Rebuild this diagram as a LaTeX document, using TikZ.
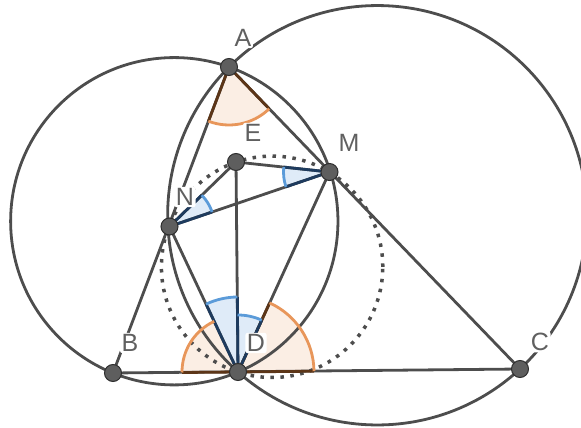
\documentclass[tikz,border=0pt]{standalone}
\usepackage{fontspec}
\newfontfamily\lblfont{Liberation Sans}
\definecolor{linec}{HTML}{4D4D4D}
\definecolor{ptfill}{HTML}{5E5E5E}
\definecolor{ptdraw}{HTML}{2E2E2E}
\definecolor{lblc}{HTML}{606060}
\definecolor{oarcc}{HTML}{E8965A}
\definecolor{ofillc}{HTML}{FBEEE4}
\definecolor{osidec}{HTML}{5C3517}
\definecolor{barcc}{HTML}{5B9BD9}
\definecolor{bfillc}{HTML}{DFEBF8}
\definecolor{bsidec}{HTML}{1E3B5E}
\begin{document}
\begin{tikzpicture}[x=1pt,y=1pt,
  seg/.style={draw=linec,line width=2.8pt},
  circ/.style={draw=linec,line width=2.8pt},
  dotc/.style={draw=linec,line width=3.5pt,dash pattern=on 3.5pt off 6.5pt},
  ptnode/.style={circle,fill=ptfill,draw=ptdraw,line width=1pt,minimum size=17pt,inner sep=0pt},
  lbl/.style={text=lblc,fill=white,rounded corners=2pt,font=\lblfont\fontsize{25}{25}\selectfont,inner sep=1.5pt},
  ofill/.style={fill=ofillc},
  bfill/.style={fill=bfillc},
  oside/.style={draw=osidec,line width=2.8pt},
  bside/.style={draw=bsidec,line width=2.8pt},
  oarc/.style={draw=oarcc,line width=2.8pt},
  barc/.style={draw=barcc,line width=2.8pt}
]
\useasboundingbox (0,0) rectangle (581,428);
% points
\coordinate (A) at (229,361);
\coordinate (B) at (113,55);
\coordinate (C) at (520,59);
\coordinate (D) at (238,56);
\coordinate (E) at (236,266);
\coordinate (M) at (329.5,256);
\coordinate (N) at (169.5,201.5);
% circle centres
\coordinate (O1) at (174.29,206.75);
\coordinate (O2) at (377.35,212.74);
\coordinate (O3) at (272.1,161.2);

% angle fills
\fill[ofill] (A) -- ++(249.2:58pt) arc[start angle=249.2,end angle=313.9,radius=58pt] -- cycle;
\fill[bfill] (N) -- ++(18.8:45pt) arc[start angle=18.8,end angle=44.1,radius=45pt] -- cycle;
\fill[bfill] (M) -- ++(173.9:46pt) arc[start angle=173.9,end angle=198.8,radius=46pt] -- cycle;
\fill[ofill] (D) -- ++(115.2:56pt) arc[start angle=115.2,end angle=180.5,radius=56pt] -- cycle;
\fill[bfill] (D) -- ++(90.5:75pt) arc[start angle=90.5,end angle=115.2,radius=75pt] -- cycle;
\fill[bfill] (D) -- ++(65.4:57pt) arc[start angle=65.4,end angle=90.5,radius=57pt] -- cycle;
\fill[ofill] (D) -- ++(0.6:76pt) arc[start angle=0.6,end angle=65.4,radius=76pt] -- cycle;

% circles
\draw[circ] (O1) circle[radius=163.66pt];
\draw[circ] (O2) circle[radius=209.7pt];
\draw[dotc] (O3) circle[radius=110.7pt];

% segments
\draw[seg] (A) -- (B);
\draw[seg] (A) -- (C);
\draw[seg] (B) -- (C);
\draw[seg] (E) -- (D);
\draw[seg] (E) -- (N);
\draw[seg] (E) -- (M);
\draw[seg] (N) -- (M);
\draw[seg] (N) -- (D);
\draw[seg] (M) -- (D);

% angle sides
\draw[oside] (A) -- ++(249.2:58pt);
\draw[oside] (A) -- ++(313.9:58pt);
\draw[bside] (N) -- ++(18.8:45pt);
\draw[bside] (N) -- ++(44.1:45pt);
\draw[bside] (M) -- ++(173.9:46pt);
\draw[bside] (M) -- ++(198.8:46pt);
\draw[oside] (D) -- ++(180.5:56pt);
\draw[oside] (D) -- ++(0.6:76pt);
\draw[oside] (D) -- ++(65.4:76pt);
\draw[bside] (D) -- ++(115.2:75pt);
\draw[bside] (D) -- ++(90.5:75pt);
\draw[bside] (D) -- ++(65.4:57pt);

% angle arcs
\draw[oarc] ([shift={(249.2:58pt)}]A) arc[start angle=249.2,end angle=313.9,radius=58pt];
\draw[barc] ([shift={(18.8:45pt)}]N) arc[start angle=18.8,end angle=44.1,radius=45pt];
\draw[barc] ([shift={(173.9:46pt)}]M) arc[start angle=173.9,end angle=198.8,radius=46pt];
\draw[oarc] ([shift={(115.2:56pt)}]D) arc[start angle=115.2,end angle=180.5,radius=56pt];
\draw[barc] ([shift={(90.5:75pt)}]D) arc[start angle=90.5,end angle=115.2,radius=75pt];
\draw[barc] ([shift={(65.4:57pt)}]D) arc[start angle=65.4,end angle=90.5,radius=57pt];
\draw[oarc] ([shift={(0.6:76pt)}]D) arc[start angle=0.6,end angle=65.4,radius=76pt];

% point markers
\node[ptnode] (pA) at (A) {};
\node[ptnode] (pB) at (B) {};
\node[ptnode] (pC) at (C) {};
\node[ptnode] (pD) at (D) {};
\node[ptnode] (pE) at (E) {};
\node[ptnode] (pM) at (M) {};
\node[ptnode] (pN) at (N) {};

% labels
\node[lbl] (lA) at (243,390) {A};
\node[lbl] (lE) at (253,295) {E};
\node[lbl] (lM) at (349,285) {M};
\node[lbl] (lN) at (185,231) {N};
\node[lbl] (lB) at (130,85) {B};
\node[lbl] (lD) at (256,85) {D};
\node[lbl] (lC) at (540,86) {C};
\end{tikzpicture}
\end{document}
